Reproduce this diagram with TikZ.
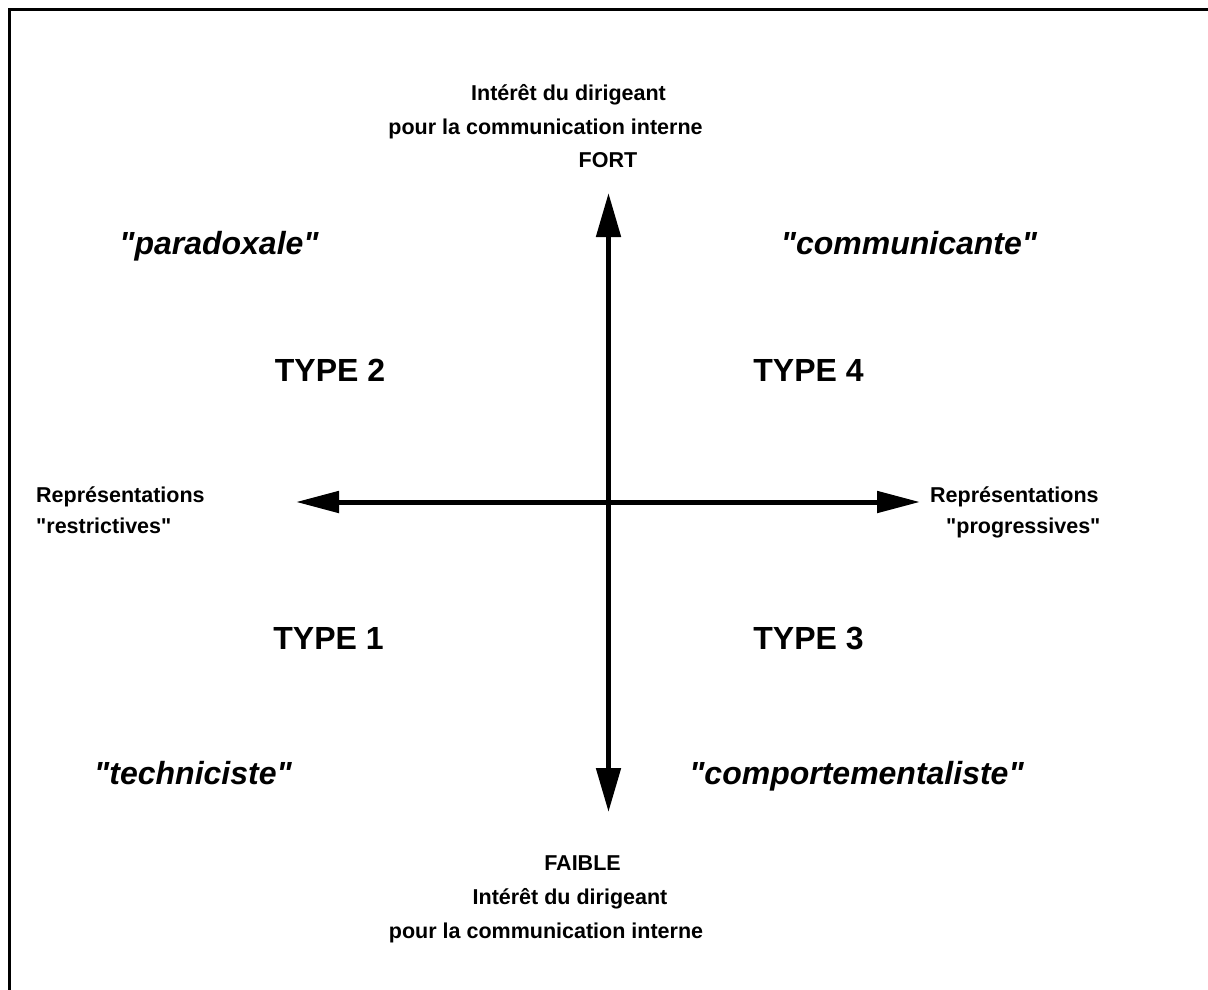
\documentclass[tikz,border=0pt]{standalone}
\usepackage{fontspec}
\setmainfont{Liberation Sans}[Ligatures=TeXOff]
\usetikzlibrary{arrows.meta}
\begin{document}
\begin{tikzpicture}[x=1pt,y=-1pt,
  lbl/.style={font=\bfseries\fontsize{21.5}{24}\selectfont, anchor=base, inner sep=0pt},
  typ/.style={font=\bfseries\fontsize{32}{36}\selectfont, anchor=base, inner sep=0pt},
  qual/.style={font=\bfseries\itshape\fontsize{32}{36}\selectfont, anchor=base, inner sep=0pt},
  axis/.style={line width=5pt, {Triangle[length=44pt,width=24pt]}-{Triangle[length=44pt,width=24pt]}},
  haxis/.style={line width=5pt, {Triangle[length=43pt,width=21pt]}-{Triangle[length=43pt,width=21pt]}},
  frame/.style={line width=3pt}]
\useasboundingbox (0,0) rectangle (1208,990);
\fill[white] (0,0) rectangle (1208,990);
% frame (only top and left edges visible)
\draw[frame] (9,995) -- (9,10) -- (1215,10);
% axes
\coordinate (top) at (608.5,193);
\coordinate (bottom) at (608.5,812);
\coordinate (left) at (296,502);
\coordinate (right) at (920,502);
\draw[axis] (bottom) -- (top);
\draw[haxis] (left) -- (right);
% top labels
\node[lbl] (t1) at (568.5,100) {Intérêt du dirigeant};
\node[lbl] (t2) at (545.5,134) {pour la communication interne};
\node[lbl] (t3) at (608,167) {FORT};
% bottom labels
\node[lbl] (b1) at (582.5,870) {FAIBLE};
\node[lbl] (b2) at (570,904) {Intérêt du dirigeant};
\node[lbl] (b3) at (546,938) {pour la communication interne};
% left / right labels
\node[lbl, anchor=base west] (l1) at (36,502) {Représentations};
\node[lbl, anchor=base west] (l2) at (36,533) {"restrictives"};
\node[lbl, anchor=base west] (r1) at (930,502) {Représentations};
\node[lbl, anchor=base west] (r2) at (946,533) {"progressives"};
% quadrant types
\node[typ] (ty2) at (330,381.5) {TYPE 2};
\node[typ] (ty4) at (808.5,381.5) {TYPE 4};
\node[typ] (ty1) at (328.5,649) {TYPE 1};
\node[typ] (ty3) at (808.5,649) {TYPE 3};
% qualifiers
\node[qual] (q2) at (219,254) {"paradoxale"};
\node[qual] (q4) at (909,254) {"communicante"};
\node[qual] (q1) at (193,784) {"techniciste"};
\node[qual] (q3) at (856.5,784) {"comportementaliste"};
\end{tikzpicture}
\end{document}
